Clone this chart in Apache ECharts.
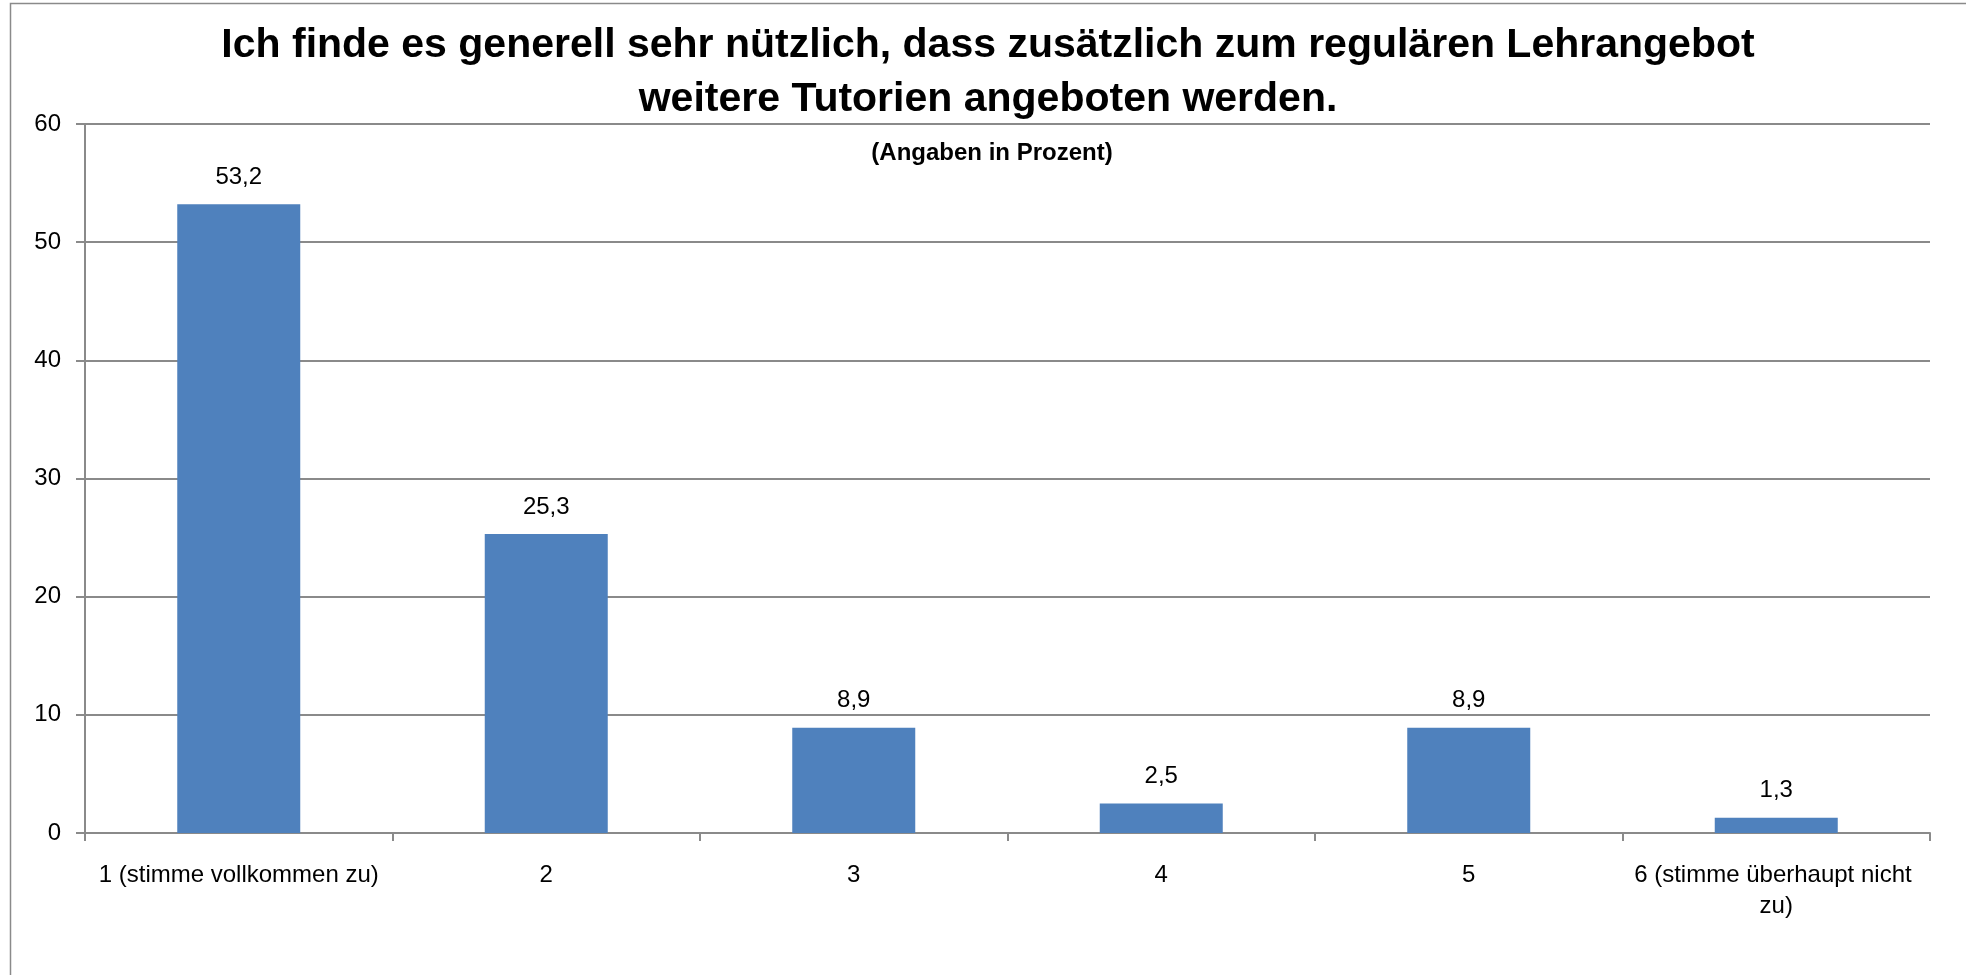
<!DOCTYPE html>
<html>
<head>
<meta charset="utf-8">
<title>Tutorien</title>
<script src="https://cdn.jsdelivr.net/npm/echarts@6/dist/echarts.min.js"></script>
<style>
  html, body { margin: 0; padding: 0; background: #fff; }
  #chart { width: 1966px; height: 975px; }
</style>
</head>
<body>
<div id="chart"></div>
<script>
// Daten
var kategorien = ['1 (stimme vollkommen zu)', '2', '3', '4', '5', '6 (stimme überhaupt nicht zu)'];
var prozent = [53.2, 25.3, 8.9, 2.5, 8.9, 1.3];
var titelZeilen = ['Ich finde es generell sehr nützlich, dass zusätzlich zum regulären Lehrangebot', 'weitere Tutorien angeboten werden.'];
var untertitel = '(Angaben in Prozent)';

var schrift = '"Liberation Sans", Arial, sans-serif';
var grau = '#8a8a8a';

var myChart = echarts.init(document.getElementById('chart'));

option = {
    backgroundColor: '#fff',
    animation: false,
    textStyle: { fontFamily: schrift },
    title: [{
        text: titelZeilen.join('\n'),
        left: 983,
        top: 14,
        textAlign: 'center',
        textStyle: { fontSize: 41, fontWeight: 'bold', color: '#000', lineHeight: 54, fontFamily: schrift }
    }, {
        text: untertitel,
        left: 987,
        top: 134,
        textAlign: 'center',
        textStyle: { fontSize: 24, fontWeight: 'bold', color: '#000', lineHeight: 28, fontFamily: schrift }
    }],
    graphic: [{
        type: 'rect',
        shape: { x: 10.5, y: 3.5, width: 2100, height: 1100 },
        style: { fill: null, stroke: grau, lineWidth: 1.5 },
        silent: true
    }],
    grid: { left: 85, right: 36, top: 124, bottom: 142 },
    xAxis: {
        type: 'category',
        data: kategorien,
        axisLine: { lineStyle: { color: grau, width: 2 } },
        axisTick: { show: true, length: 8, lineStyle: { color: grau, width: 2 } },
        axisLabel: {
            interval: 0,
            margin: 27,
            color: '#000',
            fontSize: 24,
            lineHeight: 31,
            width: 305,
            overflow: 'break',
            fontFamily: schrift
        }
    },
    yAxis: {
        type: 'value',
        min: 0,
        max: 60,
        interval: 10,
        axisLine: { show: true, lineStyle: { color: grau, width: 2 } },
        axisTick: { show: true, length: 9, lineStyle: { color: grau, width: 2 } },
        axisLabel: { margin: 24, color: '#000', fontSize: 24, fontFamily: schrift },
        splitLine: { lineStyle: { color: grau, width: 2 } }
    },
    series: [{
        type: 'bar',
        data: prozent,
        barWidth: '40%',
        itemStyle: { color: '#4F81BD' },
        label: {
            show: true,
            position: 'top',
            distance: 15,
            color: '#000',
            fontSize: 24,
            fontFamily: schrift,
            formatter: function (p) {
                return p.value.toFixed(1).replace('.', ',');
            }
        }
    }]
};
myChart.setOption(option);
</script>
</body>
</html>
